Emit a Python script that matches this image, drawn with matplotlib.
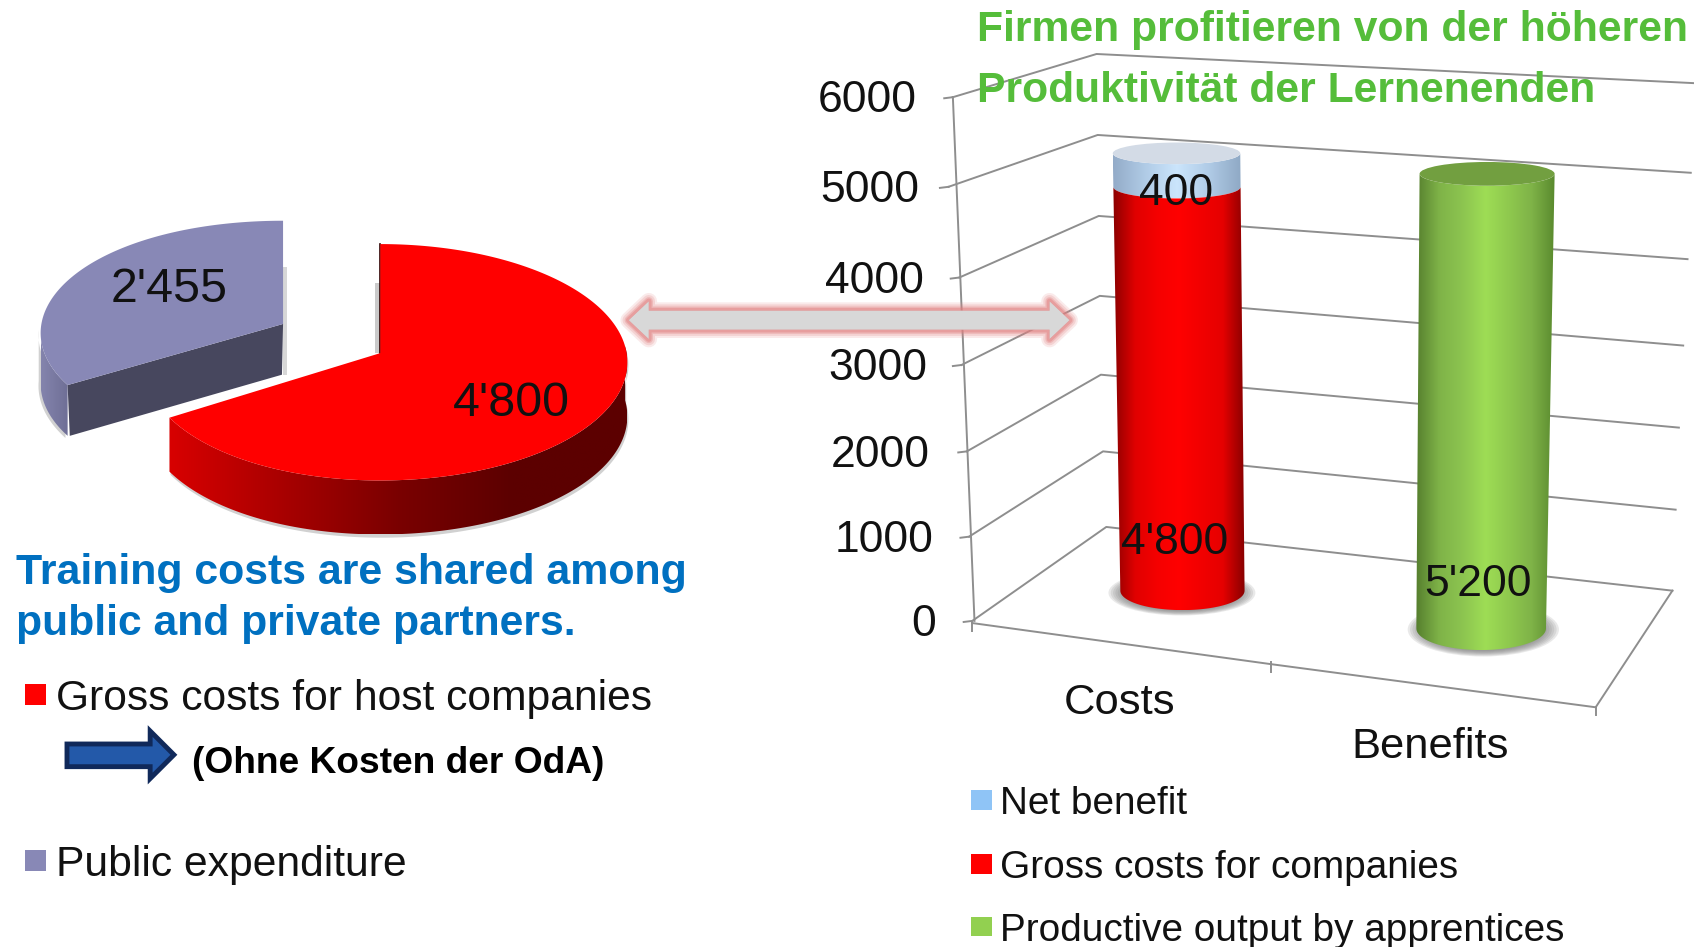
import numpy as np
import matplotlib
matplotlib.use("Agg")
import matplotlib.pyplot as plt
from matplotlib.patches import Polygon, Ellipse, Rectangle
from matplotlib.colors import LinearSegmentedColormap

plt.rcParams['font.family'] = ['Liberation Sans', 'DejaVu Sans']

# data
pie_values = [4800, 2455]
pie_labels = ["4'800", "2'455"]
bar_categories = ['Costs', 'Benefits']
gross_costs = 4800
net_benefit = 400
productive_output = 5200
axis_ticks = [0, 1000, 2000, 3000, 4000, 5000, 6000]

# positions of the walls, in picture units
left_x = [900, 897, 895, 890, 888, 878, 882]
left_y = [575, 497, 418, 338, 257, 173, 90]
corner_x = [1024, 1021, 1019, 1018, 1017, 1016, 1015]
corner_y = [488, 418, 347, 274, 200, 125, 50]
right_x = [1548, 1551, 1554, 1558, 1562, 1565, 1568]
right_y = [547, 472, 396, 320, 240, 160, 77]
tick_label_x = [866, 864, 861, 858, 855, 851, 849]

W, H = 1568, 877
fig = plt.figure(figsize=(16.94, 9.47), dpi=100)
ax = fig.add_axes([0, 0, 1, 1])
ax.set_xlim(0, W)
ax.set_ylim(H, 0)
ax.set_autoscale_on(False)
ax.axis('off')


def gradient(poly, stops, x0, x1, z):
    # horizontal colour ramp clipped to a polygon
    cmap = LinearSegmentedColormap.from_list('g', stops)
    ys = [p[1] for p in poly]
    img = np.linspace(0, 1, 256).reshape(1, -1)
    clip = Polygon(poly, closed=True, transform=ax.transData, fc='none', ec='none')
    ax.add_patch(clip)
    im = ax.imshow(img, cmap=cmap, extent=[x0, x1, max(ys), min(ys)], aspect='auto',
                   zorder=z, interpolation='bilinear')
    im.set_clip_path(clip)


def soft_ellipse(cx, cy, w, h, z):
    for k in np.linspace(1, 0.78, 8):
        ax.add_patch(Ellipse((cx, cy), w * k, h * k, fc='#7a7a7a', ec='none', alpha=0.16, zorder=z))


# ---- right chart walls
grid = '#8e8e8e'
for i, v in enumerate(axis_ticks):
    ax.plot([left_x[i], corner_x[i], right_x[i]], [left_y[i], corner_y[i], right_y[i]],
            color=grid, lw=1.4, zorder=1)
    ax.plot([left_x[i] - 8, left_x[i]], [left_y[i] + 1, left_y[i]], color=grid, lw=1.4, zorder=1)
    ax.text(tick_label_x[i], left_y[i] + 3.5, str(v), fontsize=32, ha='right', va='center',
            color='#111111', zorder=6)
ax.plot([left_x[6], left_x[0] + 2], [left_y[6], left_y[0]], color=grid, lw=1.4, zorder=1)
ax.plot([900, 1176, 1477, 1548], [577, 615, 655, 547], color=grid, lw=1.4, zorder=1)
ax.plot([900, 900], [577, 584], color=grid, lw=1.4, zorder=1)
ax.plot([1176, 1176], [613, 622], color=grid, lw=1.4, zorder=1)
ax.plot([1477, 1477], [655, 662], color=grid, lw=1.4, zorder=1)

ax.text(985, 651, bar_categories[0], fontsize=31.3, va='center', color='#111111')
ax.text(1251, 692, bar_categories[1], fontsize=31.3, va='center', color='#111111')


# ---- cylinders
def cylinder_segment(geo, v0, v1, stops, z, cap=None):
    xl0, xr0, xl1, xr1, y0, y1, b0, b1, vmax = geo

    def at(v):
        f = v / vmax
        return xl0 + (xl1 - xl0) * f, xr0 + (xr1 - xr0) * f, y0 + (y1 - y0) * f, b0 + (b1 - b0) * f

    a = np.linspace(np.pi, 0, 60)
    l, r, y, b = at(v0)
    low = [((l + r) / 2 + (r - l) / 2 * np.cos(t), y + b * np.sin(t)) for t in a]
    l2, r2, y2, b2 = at(v1)
    up = [((l2 + r2) / 2 + (r2 - l2) / 2 * np.cos(t), y2 + b2 * np.sin(t)) for t in a[::-1]]
    gradient(low + up, stops, min(l, l2), max(r, r2), z)
    if cap:
        ax.add_patch(Ellipse(((l2 + r2) / 2, y2), r2 - l2, 2 * b2, fc=cap, ec='none', zorder=z + 0.1))


total = gross_costs + net_benefit
geo_cost = (1037, 1152, 1030, 1148, 547, 142, 18, 10, total)
geo_benefit = (1311, 1431, 1314, 1439, 582, 161, 20, 11, productive_output)

soft_ellipse(1094, 549, 136, 42, 2)
soft_ellipse(1373, 583, 140, 50, 2)

red_stops = ['#8c0000', '#e00000', '#f50000', '#ff0000', '#f20000', '#e60000', '#880000']
cylinder_segment(geo_cost, gross_costs, total,
                 ['#93abc8', '#b0cbe6', '#cbe5fc', '#b0cbe6', '#8fa9c5'], 3, cap='#d3dbe6')
cylinder_segment(geo_cost, 0, gross_costs, red_stops, 4)
cylinder_segment(geo_benefit, 0, productive_output,
                 ['#567f2e', '#7fb348', '#8cc450', '#9edd55', '#8fc94e', '#7fb348', '#5a8a2e'], 3, cap='#729f40')

ax.text(1089, 179, f"{net_benefit}", fontsize=32, ha='center', va='center', color='#111111', zorder=6)
ax.text(1087, 502, f"{gross_costs:,}".replace(',', "'"), fontsize=32, ha='center', va='center', color='#111111', zorder=6)
ax.text(1368, 541, f"{productive_output:,}".replace(',', "'"), fontsize=32, ha='center', va='center', color='#111111', zorder=6)

# ---- pie
K = 0.0776
share = pie_values[0] / sum(pie_values)
split = 2 * np.pi * share


def pie_xy(th, cx, cy, a, b):
    # th runs clockwise from 12 o'clock, tilted with a little perspective
    s, t = np.sin(th), -np.cos(th)
    d = 1 - K * t
    return cx + a * s * (1 - 0.04 * np.maximum(-s, 0)) / d, cy + b * t / d


red_c = (352, 327)
pur_c = (262, 300)
pur_depth = 47
red_depth = 50

# purple slice, pulled out
th = np.linspace(split, 2 * np.pi, 120)
px, py = pie_xy(th, pur_c[0], pur_c[1], 233, 103)
side = list(zip(px[:30], py[:30])) + list(zip(px[:30][::-1], py[:30][::-1] + pur_depth))
ax.add_patch(Polygon([(p[0] - 2, p[1] + 2) for p in side], fc='#999999', ec='none', alpha=0.45, zorder=2))
gradient(side, ['#8484ad', '#6f6f96'], px[:30].min(), px[:30].max(), 2.5)
face = [(px[0], py[0]), pur_c, (pur_c[0] - 1, pur_c[1] + pur_depth), (px[0] + 2, py[0] + pur_depth)]
ax.add_patch(Polygon(face, fc='#47475e', ec='none', zorder=3))
ax.add_patch(Rectangle((pur_c[0], 247), 4, 100, fc='#b0b0b0', ec='none', alpha=0.5, zorder=1.8))
ax.add_patch(Polygon(list(zip(px, py)) + [pur_c], fc='#8888b6', ec='none', zorder=4))

# red slice
th = np.linspace(0, split, 240)
rx, ry = pie_xy(th, red_c[0], red_c[1], 228, 108.8)
low = th >= np.pi / 2 - 0.06
side = list(zip(rx[low], ry[low])) + list(zip(rx[low][::-1], ry[low][::-1] + red_depth))
ax.add_patch(Polygon([(p[0] + 1, p[1] + 3) for p in side], fc='#999999', ec='none', alpha=0.45, zorder=2))
gradient(side, ['#d80000', '#a80000', '#7a0000', '#5c0000', '#5c0000'], rx.min(), rx.max(), 3)
ax.add_patch(Rectangle((347, 262), 5, 65, fc='#a8a8a8', ec='none', alpha=0.6, zorder=2))
ax.plot([352, 352], [226, 327], color='#300000', lw=1.2, zorder=3.5)
ax.add_patch(Polygon(list(zip(rx, ry)) + [red_c], fc='#ff0000', ec='none', zorder=4))

ax.text(473, 374, pie_labels[0], fontsize=34.8, ha='center', va='center', color='#111111', zorder=6)
ax.text(157, 268, pie_labels[1], fontsize=34.8, ha='center', va='center', color='#111111', zorder=6)

# ---- double arrow between the charts
x0, x1, yc = 582, 990, 296.5
hl, hh, sh = 18.5, 17.5, 8.8
arrow = [(x0, yc), (x0 + hl, yc - hh), (x0 + hl, yc - sh), (x1 - hl, yc - sh), (x1 - hl, yc - hh), (x1, yc),
         (x1 - hl, yc + hh), (x1 - hl, yc + sh), (x0 + hl, yc + sh), (x0 + hl, yc + hh)]
for lw, al in zip([12, 9, 6, 4], [0.16, 0.22, 0.32, 0.45]):
    ax.add_patch(Polygon(arrow, fc='#e08080', ec='#e08080', lw=lw, alpha=al, joinstyle='round', zorder=7))
ax.add_patch(Polygon(arrow, fc='#d8d8d8', ec='none', zorder=8))

# ---- texts left
ax.text(15, 531, 'Training costs are shared among', fontsize=30.9, fontweight='bold', color='#0070c0', va='center', zorder=9)
ax.text(15, 578, 'public and private partners.', fontsize=30.7, fontweight='bold', color='#0070c0', va='center', zorder=9)
ax.add_patch(Rectangle((23, 633), 20, 20, fc='#ff0000', ec='none'))
ax.text(52, 647, 'Gross costs for host companies', fontsize=30.7, color='#111111', va='center')
ax.add_patch(Rectangle((23, 787), 20, 20, fc='#8888b6', ec='none'))
ax.text(52, 801, 'Public expenditure', fontsize=30.7, color='#111111', va='center')
ax.text(178, 707, '(Ohne Kosten der OdA)', fontsize=26.7, fontweight='bold', color='#000000', va='center')
blue = [(62, 689), (139, 689), (139, 677), (161, 699), (139, 721), (139, 710), (62, 710)]
ax.add_patch(Polygon(blue, fc='#2359a9', ec='#10295a', lw=3.5, joinstyle='miter'))

# ---- texts right
ax.text(904, 28, 'Firmen profitieren von der höheren', fontsize=30.7, fontweight='bold', color='#55bd3a', va='center', zorder=9)
ax.text(904, 84, 'Produktivität der Lernenenden', fontsize=30.7, fontweight='bold', color='#55bd3a', va='center', zorder=9)
legend_labels = ['Net benefit', 'Gross costs for companies', 'Productive output by apprentices']
legend_colors = ['#8fc4f6', '#ff0000', '#92d050']
for y, lab, col in zip([741, 800, 858], legend_labels, legend_colors):
    ax.add_patch(Rectangle((899, y - 9), 19, 18, fc=col, ec='none'))
    ax.text(926, y + 4, lab, fontsize=27.9, color='#111111', va='center')

fig.savefig('out.png', dpi=100)
